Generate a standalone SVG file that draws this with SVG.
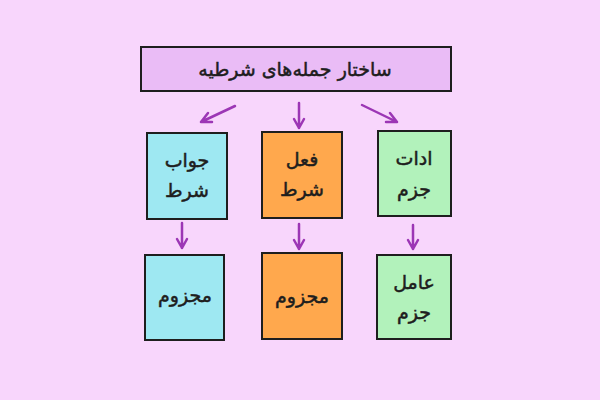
<svg xmlns="http://www.w3.org/2000/svg" width="600" height="400" viewBox="0 0 600 400">
<defs>
<style>
.box{stroke:#1e1e1e;stroke-width:2}
.t{font-family:"DejaVu Sans",sans-serif;font-size:19px;fill:#1e1e1e;stroke:#1e1e1e;stroke-width:0.5;text-anchor:middle;dominant-baseline:central}
.ar{stroke:#9c36b5;stroke-width:2.5;fill:none;stroke-linecap:round;stroke-linejoin:round}
</style>
</defs>
<rect width="600" height="400" fill="#f8d6fc"/>
<g id="title">
<rect class="box" x="141" y="47" width="310" height="44" fill="#eabcf6"/>
<text class="t" x="295" y="69" direction="rtl" font-size="20">ساختار جمله‌های شرطیه</text>
</g>
<g id="n1">
<rect class="box" x="147" y="133" width="80" height="86" fill="#9ee8f2"/>
<text class="t" x="187" y="160" direction="rtl">جواب</text>
<text class="t" x="187" y="190" direction="rtl">شرط</text>
</g>
<g id="n2">
<rect class="box" x="262" y="132" width="80" height="86" fill="#ffa84d"/>
<text class="t" x="302" y="159" direction="rtl">فعل</text>
<text class="t" x="302" y="189" direction="rtl">شرط</text>
</g>
<g id="n3">
<rect class="box" x="378" y="131" width="73" height="85" fill="#b2f2bb"/>
<text class="t" x="414" y="158" direction="rtl">ادات</text>
<text class="t" x="414" y="189" direction="rtl">جزم</text>
</g>
<g id="n4">
<rect class="box" x="145" y="255" width="79" height="85" fill="#9ee8f2"/>
<text class="t" x="185" y="295" direction="rtl">مجزوم</text>
</g>
<g id="n5">
<rect class="box" x="262" y="253" width="80" height="86" fill="#ffa84d"/>
<text class="t" x="302" y="296" direction="rtl">مجزوم</text>
</g>
<g id="n6">
<rect class="box" x="377" y="255" width="74" height="84" fill="#b2f2bb"/>
<text class="t" x="414" y="282" direction="rtl">عامل</text>
<text class="t" x="414" y="312" direction="rtl">جزم</text>
</g>
<g id="connectors">
<path class="ar" d="M235 106 L201 122 M201 122 L208 113 M201 122 L212 122"/>
<path class="ar" d="M299 103 L299 128 M299 128 L294 119 M299 128 L304 119"/>
<path class="ar" d="M362 105 L397 122 M397 122 L386 122 M397 122 L390 113"/>
<path class="ar" d="M182 223 L182 248 M182 248 L177 239 M182 248 L187 239"/>
<path class="ar" d="M299 224 L299 249 M299 249 L294 240 M299 249 L304 240"/>
<path class="ar" d="M413 225 L413 249 M413 249 L408 240 M413 249 L418 240"/>
</g>
</svg>
